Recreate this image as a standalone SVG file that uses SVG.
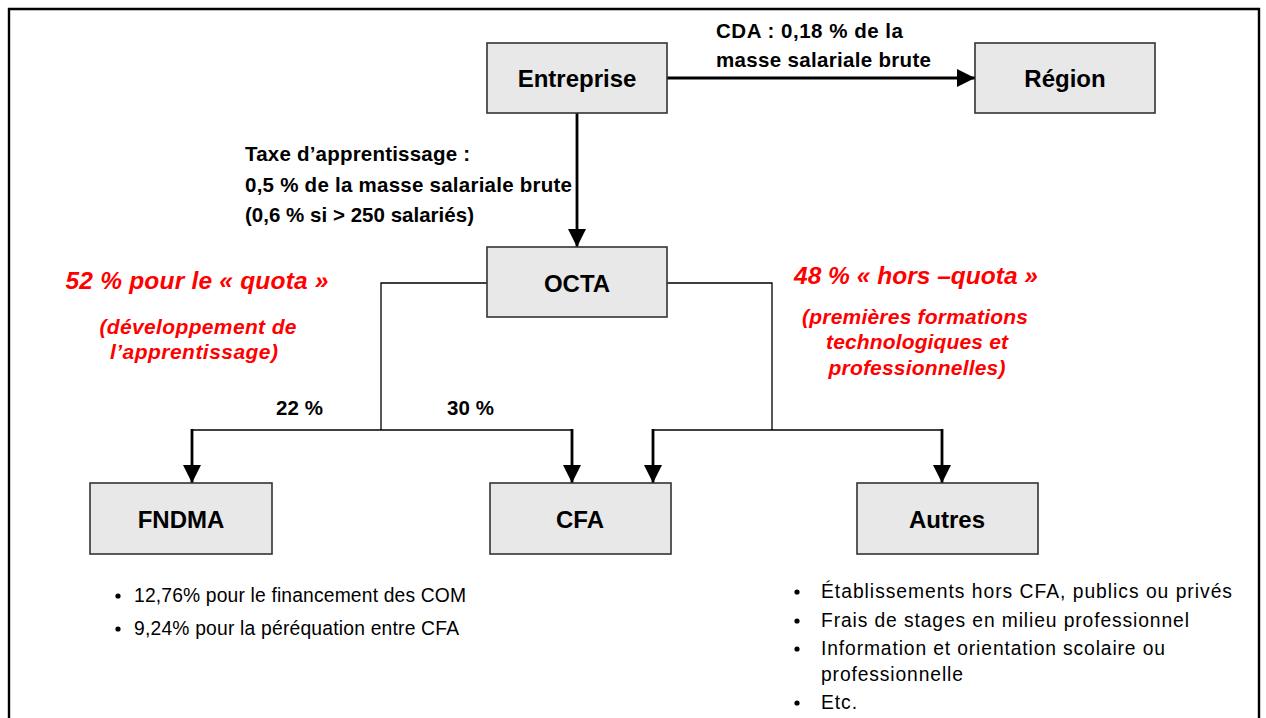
<svg xmlns="http://www.w3.org/2000/svg" width="1266" height="718" viewBox="0 0 1266 718">
<style>
.box{fill:#e8e8e8;stroke:#333;stroke-width:1.6}
.lbl{font-family:"Liberation Sans",Arial,sans-serif;font-weight:bold;font-size:24px;fill:#000;text-anchor:middle}
.bt{font-family:"Liberation Sans",Arial,sans-serif;font-weight:bold;font-size:20.5px;fill:#000}
.rt{font-family:"Liberation Sans",Arial,sans-serif;font-weight:bold;font-style:italic;fill:#ff0000;text-anchor:middle}
.nt{font-family:"Liberation Sans",Arial,sans-serif;font-size:19.3px;fill:#000}
.thin{fill:none;stroke:#000;stroke-width:1.3}
.thick{fill:none;stroke:#000;stroke-width:2.8}
</style>
<defs>
<marker id="ah" viewBox="0 0 10 10" refX="10" refY="5" markerWidth="20" markerHeight="18" markerUnits="userSpaceOnUse" orient="auto">
<path d="M0,0 L10,5 L0,10 z" fill="#000"/>
</marker>
</defs>
<rect x="0" y="0" width="1266" height="718" fill="#fff"/>
<path d="M9,730 L9,9 L1259,9 L1259,730" fill="none" stroke="#000" stroke-width="2.4"/>

<g id="connectors">
<path class="thick" d="M667,78 L975,78" marker-end="url(#ah)"/>
<path class="thick" d="M577,113 L577,247" marker-end="url(#ah)"/>
<path class="thin" d="M487,283 L381,283 L381,430"/>
<path class="thin" d="M192,430 L572,430"/>
<path class="thick" d="M192,429 L192,483" marker-end="url(#ah)"/>
<path class="thick" d="M572,429 L572,483" marker-end="url(#ah)"/>
<path class="thin" d="M667,283 L772,283 L772,430"/>
<path class="thin" d="M653,430 L942,430"/>
<path class="thick" d="M653,429 L653,483" marker-end="url(#ah)"/>
<path class="thick" d="M942,429 L942,483" marker-end="url(#ah)"/>
</g>

<g id="node-entreprise">
<rect class="box" x="487" y="43" width="180" height="70"/>
<text class="lbl" x="577" y="87">Entreprise</text>
</g>
<g id="node-region">
<rect class="box" x="975" y="43" width="180" height="70"/>
<text class="lbl" x="1065" y="87">Région</text>
</g>
<g id="node-octa">
<rect class="box" x="487" y="247" width="180" height="70"/>
<text class="lbl" x="577" y="292">OCTA</text>
</g>
<g id="node-fndma">
<rect class="box" x="90" y="483" width="182" height="71"/>
<text class="lbl" x="181" y="528">FNDMA</text>
</g>
<g id="node-cfa">
<rect class="box" x="490" y="483" width="181" height="71"/>
<text class="lbl" x="580" y="528">CFA</text>
</g>
<g id="node-autres">
<rect class="box" x="857" y="483" width="181" height="71"/>
<text class="lbl" x="947" y="528">Autres</text>
</g>

<g id="labels">
<text class="bt" x="716" y="38" textLength="187" lengthAdjust="spacing">CDA : 0,18 % de la</text>
<text class="bt" x="716" y="67" textLength="215" lengthAdjust="spacing">masse salariale brute</text>
<text class="bt" x="245" y="161" textLength="225" lengthAdjust="spacing">Taxe d’apprentissage :</text>
<text class="bt" x="245" y="192" textLength="327" lengthAdjust="spacing">0,5 % de la masse salariale brute</text>
<text class="bt" x="245" y="222" textLength="229" lengthAdjust="spacing">(0,6 % si &gt; 250 salariés)</text>
<text class="bt" x="276" y="415" textLength="47" lengthAdjust="spacing">22 %</text>
<text class="bt" x="447" y="415" textLength="47" lengthAdjust="spacing">30 %</text>

<text class="rt" x="197" y="289" font-size="24.5" textLength="263" lengthAdjust="spacing">52 % pour le « quota »</text>
<text class="rt" x="198" y="334" font-size="21" textLength="197" lengthAdjust="spacing">(développement de</text>
<text class="rt" x="194" y="359" font-size="21" textLength="168" lengthAdjust="spacing">l’apprentissage)</text>
<text class="rt" x="916" y="284" font-size="24.5" textLength="244" lengthAdjust="spacing">48 % « hors –quota »</text>
<text class="rt" x="915" y="324" font-size="21" textLength="226" lengthAdjust="spacing">(premières formations</text>
<text class="rt" x="917" y="349" font-size="21" textLength="182" lengthAdjust="spacing">technologiques et</text>
<text class="rt" x="917" y="375" font-size="21" textLength="177" lengthAdjust="spacing">professionnelles)</text>
</g>

<g id="notes">
<circle cx="118" cy="596" r="2.6" fill="#000"/>
<text class="nt" x="134" y="602" textLength="332" lengthAdjust="spacing">12,76% pour le financement des COM</text>
<circle cx="118" cy="629" r="2.6" fill="#000"/>
<text class="nt" x="134" y="635" textLength="325" lengthAdjust="spacing">9,24% pour la péréquation entre CFA</text>

<circle cx="797" cy="592" r="2.6" fill="#000"/>
<text class="nt" x="821" y="598" textLength="411" lengthAdjust="spacing">Établissements hors CFA, publics ou privés</text>
<circle cx="797" cy="621" r="2.6" fill="#000"/>
<text class="nt" x="821" y="627" textLength="368" lengthAdjust="spacing">Frais de stages en milieu professionnel</text>
<circle cx="797" cy="649" r="2.6" fill="#000"/>
<text class="nt" x="821" y="655" textLength="344" lengthAdjust="spacing">Information et orientation scolaire ou</text>
<text class="nt" x="821" y="681" textLength="142" lengthAdjust="spacing">professionnelle</text>
<circle cx="797" cy="703" r="2.6" fill="#000"/>
<text class="nt" x="821" y="709" textLength="36" lengthAdjust="spacing">Etc.</text>
</g>
</svg>
